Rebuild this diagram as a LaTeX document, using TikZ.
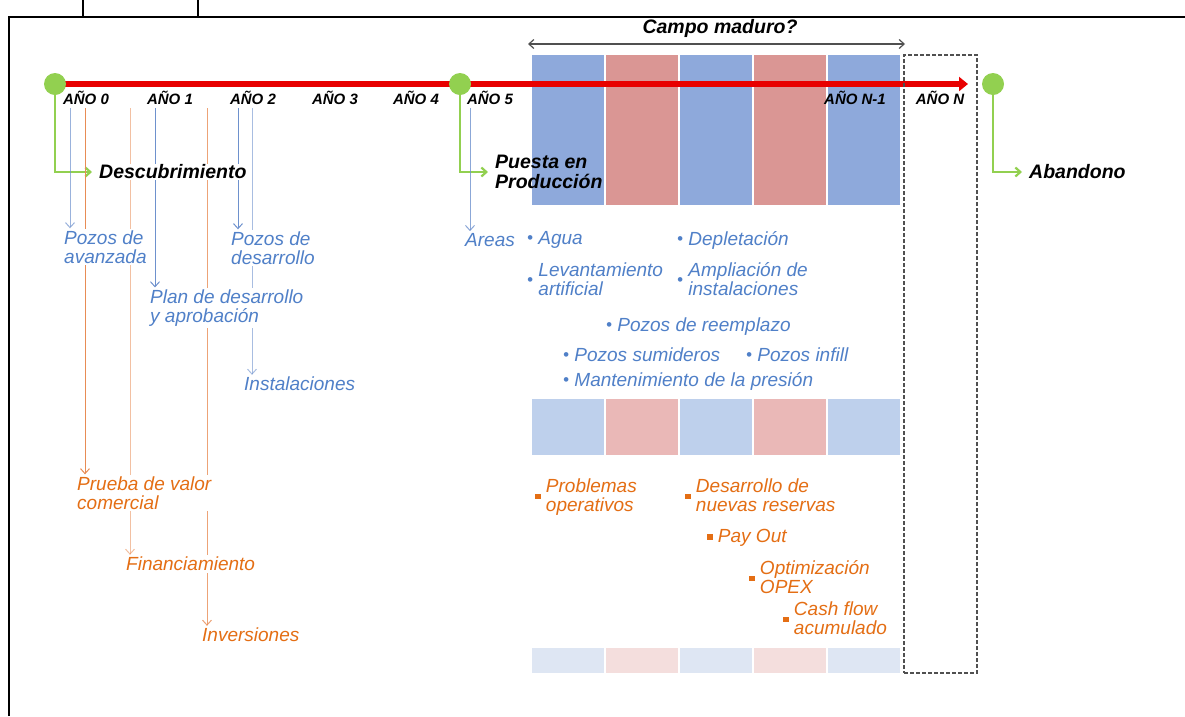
\documentclass[tikz,border=0pt]{standalone}
\usepackage{fontspec}
\setmainfont{Liberation Sans}
\usetikzlibrary{arrows.meta, positioning, backgrounds}
\definecolor{verde}{RGB}{146,208,80}
\definecolor{rojo}{RGB}{232,0,0}
\definecolor{azultxt}{RGB}{80,128,200}
\definecolor{naranja}{RGB}{228,110,20}
\definecolor{azullin}{RGB}{110,145,205}
\definecolor{naranjalin}{RGB}{232,140,85}
\definecolor{azul1}{RGB}{142,169,219}
\definecolor{rosa1}{RGB}{218,150,148}
\definecolor{azul2}{RGB}{190,208,236}
\definecolor{rosa2}{RGB}{234,184,183}
\definecolor{azul3}{RGB}{222,230,243}
\definecolor{rosa3}{RGB}{244,222,221}
\definecolor{gris}{RGB}{80,80,80}
\newcommand\bdot{\raisebox{.1ex}{\fontsize{17}{17}\selectfont\textbullet}}
\newcommand\osq{\raisebox{.3ex}{\rule{5.5pt}{5.5pt}}}
\tikzstyle{hito} = [circle, fill=verde, minimum size=22pt, inner sep=0pt]
\tikzstyle{anio} = [font=\fontsize{15}{16}\selectfont\bfseries\itshape, inner sep=1pt]
\tikzstyle{hitotext} = [font=\fontsize{19.5}{19.5}\selectfont\bfseries\itshape, align=left, anchor=west, inner sep=1pt]
\tikzstyle{azultext} = [text=azultxt, font=\fontsize{19}{19}\selectfont\itshape, fill=white, inner sep=2pt, align=left, anchor=west]
\tikzstyle{naranjatext} = [text=naranja, font=\fontsize{19}{19}\selectfont\itshape, fill=white, inner sep=2pt, align=left, anchor=west]
\tikzstyle{dashbox} = [draw=gris, line width=2pt, dash pattern=on 4pt off 2pt, minimum width=73pt, minimum height=618pt, inner sep=0pt]
\tikzstyle{greenarrow} = [verde, line width=2.2pt, -{Straight Barb[length=5pt,width=9pt]}]
\tikzstyle{bluearrow} = [azullin, line width=1pt, -{Straight Barb[length=5pt,width=9pt]}]
\tikzstyle{orangearrow} = [naranjalin, line width=1pt, -{Straight Barb[length=5pt,width=9pt]}]
\tikzstyle{redline} = [rojo, line width=6pt, -{Triangle[length=9pt,width=14pt]}]
\tikzstyle{dblarrow} = [gris, line width=1.2pt, {Straight Barb[length=5pt,width=9pt]}-{Straight Barb[length=5pt,width=9pt]}]
\begin{document}
\begin{tikzpicture}[x=1pt, y=-1pt]
	\useasboundingbox (0,0) rectangle (1185,716);
	% marco
	\draw [line width=1.2pt] (9,716) -- (9,17) -- (1185,17);
	\draw [line width=1.2pt] (83,0) -- (83,17) (198,0) -- (198,17);

	\node (d0) [hito] at (55,84) {};
	\node (d5) [hito] at (460,84) {};
	\node (dN) [hito] at (993,84) {};
	\coordinate (fin) at (968,84);

	\node (a0) [anio] at (86,98) {AÑO 0};
	\node (a1) [anio] at (170,98) {AÑO 1};
	\node (a2) [anio] at (253,98) {AÑO 2};
	\node (a3) [anio] at (335,98) {AÑO 3};
	\node (a4) [anio] at (416,98) {AÑO 4};
	\node (a5) [anio] at (490,98) {AÑO 5};
	\node (aN1) [anio] at (855,98) {AÑO N-1};
	\node (aN) [anio] at (940,98) {AÑO N};

	\node (campo) [hitotext, anchor=center] at (720,28) {Campo maduro?};
	\coordinate (cmL) at (528,44);
	\coordinate (cmR) at (905,44);
	\draw [dblarrow] (cmL) -- (cmR);

	\node (desc) [hitotext, fill=white] at (98,172) {Descubrimiento};
	\node (puesta) [hitotext] at (494,172) {Puesta en\\Producción};
	\node (aband) [hitotext] at (1028,172) {Abandono};
	\node (boxN) [dashbox] at (940.5,364) {};

	\node (pozav) [azultext] at (62,247) {Pozos de\\avanzada};
	\node (pozdes) [azultext] at (229,248) {Pozos de\\desarrollo};
	\node (plan) [azultext] at (148,308) {Plan de desarrollo\\y aprobación};
	\node (instal) [azultext] at (242,384) {Instalaciones};
	\node (prueba) [naranjatext] at (75,493) {Prueba de valor\\comercial};
	\node (financ) [naranjatext] at (124,564) {Financiamiento};
	\node (invers) [naranjatext] at (200,635) {Inversiones};

	\node (areas) [azultext] at (463,240) {Areas};
	\node (agua) [azultext] at (525,240) {\bdot\ Agua};
	\node (deplet) [azultext] at (675,240) {\bdot\ Depletación};
	\node (levant) [azultext] at (525,282) {\bdot\ \begin{tabular}{@{}l@{}}Levantamiento\\artificial\end{tabular}};
	\node (amplia) [azultext] at (675,282) {\bdot\ \begin{tabular}{@{}l@{}}Ampliación de\\instalaciones\end{tabular}};
	\node (reempl) [azultext] at (604,327) {\bdot\ Pozos de reemplazo};
	\node (sumid) [azultext] at (561,355) {\bdot\ Pozos sumideros};
	\node (infill) [azultext] at (744,355) {\bdot\ Pozos infill};
	\node (manten) [azultext] at (561,381) {\bdot\ Mantenimiento de la presión};

	\node (problem) [naranjatext] at (533,498) {\osq\ \begin{tabular}{@{}l@{}}Problemas\\operativos\end{tabular}};
	\node (desarr) [naranjatext] at (683,498) {\osq\ \begin{tabular}{@{}l@{}}Desarrollo de\\nuevas reservas\end{tabular}};
	\node (payout) [naranjatext] at (705,538) {\osq\ Pay Out};
	\node (optim) [naranjatext] at (747,580) {\osq\ \begin{tabular}{@{}l@{}}Optimización\\OPEX\end{tabular}};
	\node (cash) [naranjatext] at (781,621) {\osq\ \begin{tabular}{@{}l@{}}Cash flow\\acumulado\end{tabular}};

	\coordinate (p1) at (70,108);
	\coordinate (p2) at (85,108);
	\coordinate (p3) at (130,108);
	\coordinate (p4) at (155,108);
	\coordinate (p5) at (207,108);
	\coordinate (p6) at (238,108);
	\coordinate (p7) at (252,108);
	\coordinate (p8) at (470,108);

	\begin{scope}[on background layer]
		\foreach \i/\c in {0/azul,1/rosa,2/azul,3/rosa,4/azul}{
			\fill [\c1] ({532+74*\i},55) rectangle ++(72,150);
			\fill [\c2] ({532+74*\i},399) rectangle ++(72,56);
			\fill [\c3] ({532+74*\i},648) rectangle ++(72,25);
		}
		\draw [redline] (d0.center) -- (fin);
		\draw [greenarrow] (d0.center) |- ([xshift=-6pt]desc.west);
		\draw [greenarrow] (d5.center) |- ([xshift=-6pt]puesta.west);
		\draw [greenarrow] (dN.center) |- ([xshift=-6pt]aband.west);

		\draw [bluearrow, opacity=.7] (p1) -- (p1 |- pozav.north);
		\draw [orangearrow] (p2) -- (p2 |- prueba.north);
		\draw [orangearrow, opacity=.55] (p3) -- (p3 |- financ.north);
		\draw [bluearrow] (p4) -- (p4 |- plan.north);
		\draw [orangearrow, opacity=.8] (p5) -- (p5 |- invers.north);
		\draw [bluearrow] (p6) -- (p6 |- pozdes.north);
		\draw [bluearrow, opacity=.6] (p7) -- (p7 |- instal.north);
		\draw [bluearrow, opacity=.8] (p8) -- (p8 |- areas.north);
	\end{scope}
\end{tikzpicture}
\end{document}
